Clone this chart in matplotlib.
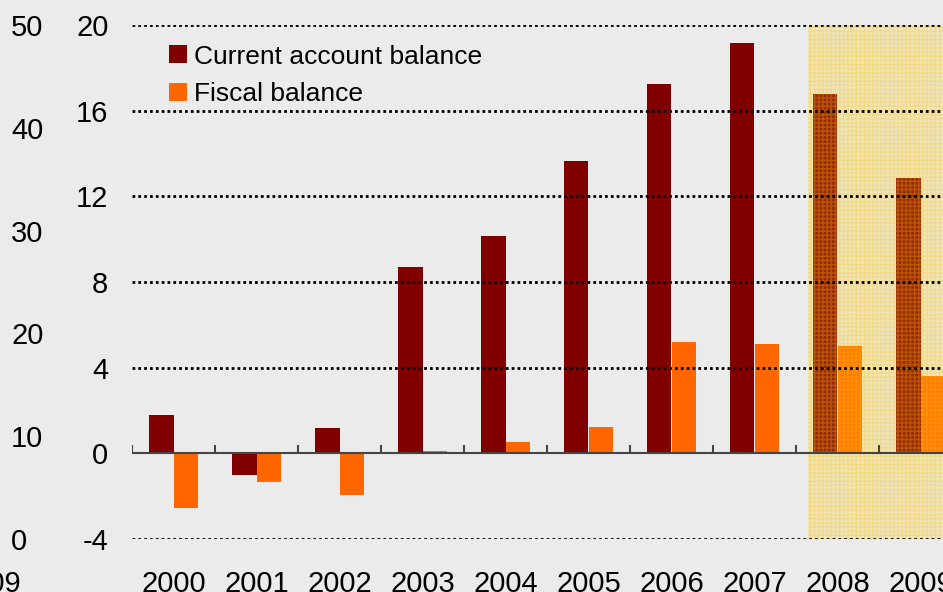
import matplotlib.pyplot as plt
from matplotlib.patches import Rectangle
import numpy as np

plt.rcParams['font.family'] = ['Liberation Sans', 'DejaVu Sans']
plt.rcParams['axes.unicode_minus'] = False
plt.rcParams['hatch.linewidth'] = 1.0

years = ['2000', '2001', '2002', '2003', '2004', '2005', '2006', '2007', '2008', '2009']
current_account = [1.8, -1.0, 1.2, 8.7, 10.15, 13.65, 17.25, 19.15, 16.8, 12.85]
fiscal = [-2.55, -1.35, -1.95, 0.1, 0.55, 1.25, 5.2, 5.1, 5.0, 3.6]
forecast_from = 8  # 2008 onwards are projections

left_ticks = [0, 10, 20, 30, 40, 50]
right_ticks = [-4, 0, 4, 8, 12, 16, 20]

BG = '#ebebeb'
W, H = 943, 592
fig = plt.figure(figsize=(W / 100, H / 100), dpi=100, facecolor=BG)

# neighbouring panel, only its right axis is visible
axl = fig.add_axes([-711 / W, 53 / H, 700 / W, 514 / H])
axl.set_facecolor(BG)
axl.set_ylim(0, 50)
axl.set_yticks(left_ticks)
axl.yaxis.tick_right()
axl.set_xlim(2000, 2009)
axl.set_xticks([2009])
axl.set_xticklabels(['2009'])
axl.tick_params(length=0, labelsize=21, pad=16)
axl.tick_params(axis='x', pad=22)
for s in axl.spines.values():
    s.set_visible(False)

ax = fig.add_axes([132 / W, 53 / H, 830 / W, 514 / H])
ax.set_facecolor(BG)
x = np.arange(len(years))
bw = 0.3
ax.set_xlim(-0.5, len(years) - 0.5)
ax.set_ylim(-4, 20)

for t in right_ticks:
    if t != 0:
        ax.axhline(t, color='black', lw=2.0, ls=(0, (1, 1.1)), zorder=4)

ax.bar(x - bw / 2, current_account, bw, color='#800000', zorder=2,
       label='Current account balance')
ax.bar(x + bw / 2, fiscal, bw, color='#ff6600', zorder=2, label='Fiscal balance')

# shaded projection period
x0 = forecast_from - 0.35
span = len(years) - 0.5 - x0 + 1
ax.add_patch(Rectangle((x0, -4), span, 24, facecolor='#ffd21f', alpha=0.2,
                       edgecolor='none', zorder=3))
ax.add_patch(Rectangle((x0, -4), span, 24, facecolor='none', edgecolor='#ffc000',
                       alpha=0.3, hatch='++++', lw=0, zorder=3))

ax.axhline(0, color='#444444', lw=1.5, zorder=5)
ax.vlines(np.arange(len(years) + 1) - 0.5, 0, 0.38, color='#444444', lw=1.5, zorder=5)

ax.set_yticks(right_ticks)
ax.set_xticks(x)
ax.set_xticklabels(years)
ax.tick_params(length=0, labelsize=21)
ax.tick_params(axis='y', pad=17)
ax.tick_params(axis='x', pad=22)
for s in ax.spines.values():
    s.set_visible(False)

ax.legend(loc='upper left', bbox_to_anchor=(0.045, 0.962), frameon=False,
          fontsize=19, handlelength=0.65, handleheight=0.65, handletextpad=0.3,
          labelspacing=0.52, borderpad=0, borderaxespad=0)

fig.savefig('out.png', dpi=100, facecolor=BG)
